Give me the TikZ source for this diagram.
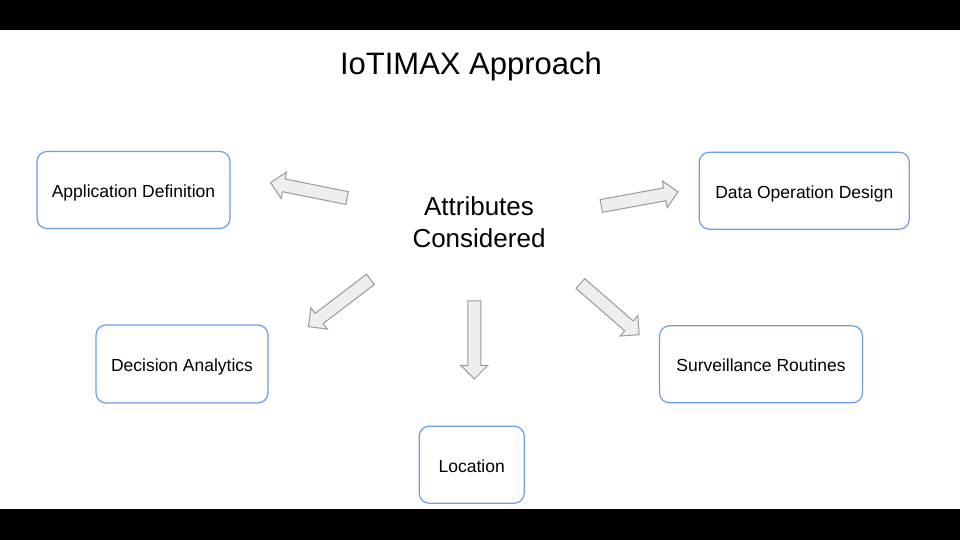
\documentclass[tikz,border=0pt]{standalone}
\usepackage{fontspec}
\setmainfont{Liberation Sans}
\usepackage{xcolor}
\usetikzlibrary{shapes.arrows}
\definecolor{boxblue}{HTML}{6D9EEB}
\definecolor{arrowline}{HTML}{999999}
\definecolor{arrowfill}{HTML}{EEEEEE}
\tikzset{
  box/.style={draw=boxblue, line width=1.2pt, rounded corners=10pt, align=center, inner sep=3pt,
    text height=18pt, text depth=3pt, font=\fontsize{17.5}{20}\selectfont},
  bigarrow/.style={single arrow, draw=arrowline, fill=arrowfill, line width=1pt,
    inner xsep=0pt, inner ysep=6pt, single arrow head extend=7pt, minimum height=78pt}
}

\begin{document}
\begin{tikzpicture}[x=1pt, y=-1pt]
  \useasboundingbox (0,0) rectangle (960,540);
  \fill[white] (0,0) rectangle (960,540);
  \fill[black] (0,0) rectangle (960,30);
  \fill[black] (0,509) rectangle (960,540);
  % title and centre text
  \node[anchor=base, font=\fontsize{31}{36}\selectfont] (title) at (471,75) {IoTIMAX Approach};
  \node[align=center, inner sep=0pt, font=\fontsize{26}{32}\selectfont] (attr) at (479,222) {Attributes\\Considered};
  % boxes
  \node[box, minimum width=193pt, minimum height=77pt] (app) at (133.5,190) {Application Definition};
  \node[box, minimum width=210pt, minimum height=77pt] (dod) at (804.3,190.7) {Data Operation Design};
  \node[box, minimum width=172pt, minimum height=78pt] (dec) at (182,364) {Decision Analytics};
  \node[box, minimum width=203pt, minimum height=77pt] (sur) at (761,364.3) {Surveillance Routines};
  \node[box, minimum width=105pt, minimum height=77pt] (loc) at (471.7,464.7) {Location};
  % block arrows
  \node[bigarrow, rotate=168.6] (toapp) at (312,191) {};
  \node[bigarrow, rotate=10.4] (todod) at (636.5,199.5) {};
  \node[bigarrow, rotate=217.3] (todec) at (342,301) {};
  \node[bigarrow, rotate=270] (toloc) at (474.3,336.7) {};
  \node[bigarrow, rotate=-41] (tosur) at (607.3,307) {};
\end{tikzpicture}
\end{document}
